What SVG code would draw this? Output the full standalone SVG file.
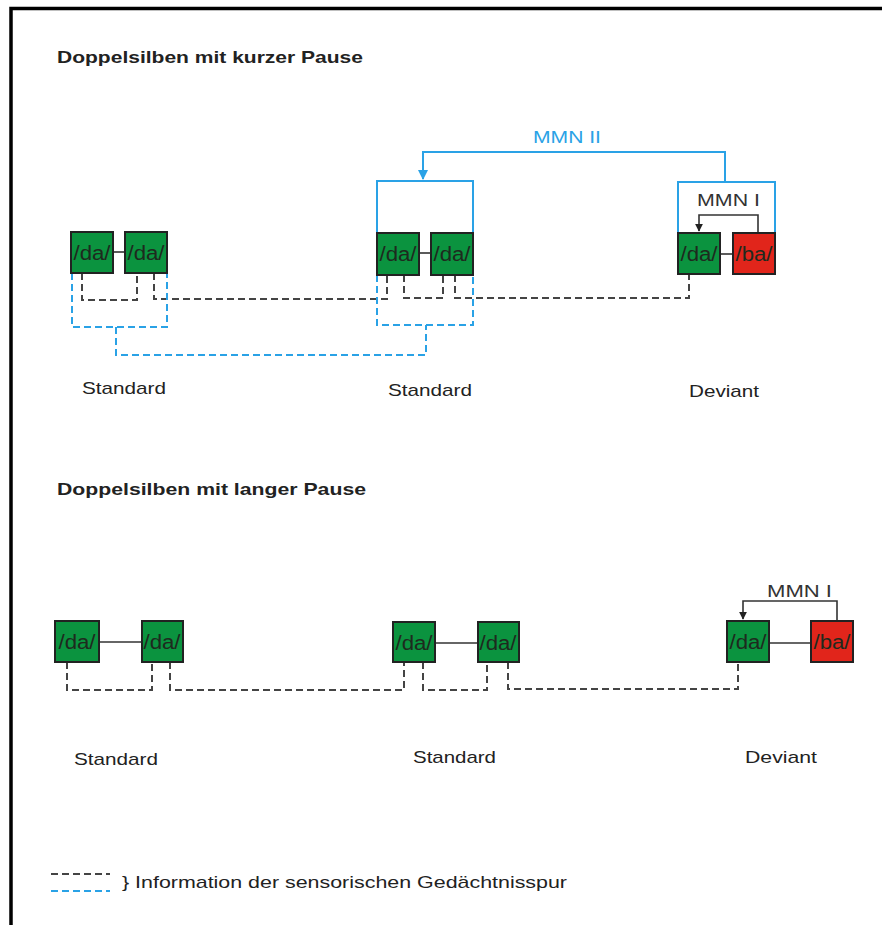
<svg xmlns="http://www.w3.org/2000/svg" width="882" height="925" viewBox="0 0 882 925">
<style>
.t{font-family:"Liberation Sans",Arial,sans-serif;fill:#222}
.h{font-size:17px;font-weight:bold}
.lab{font-size:17px}
.bx{font-size:20px;fill:#1e2a1e;text-anchor:middle}
.g{fill:#0b933f;stroke:#222;stroke-width:2}
.r{fill:#e1251b;stroke:#222;stroke-width:2}
.ln{stroke:#333;stroke-width:1.6;fill:none}
.bd{stroke:#444;stroke-width:2;fill:none;stroke-dasharray:7 4}
.bl{stroke:#2aa2e6;stroke-width:2;fill:none;stroke-dasharray:7 4}
.bs{stroke:#2aa2e6;stroke-width:2;fill:none}
.ar{stroke:#333;stroke-width:1.6;fill:none}
</style>
<defs>
<marker id="ah" viewBox="0 0 10 10" refX="9" refY="5" markerWidth="5" markerHeight="5" orient="auto"><path d="M0,0 L10,5 L0,10 z" fill="#222"/></marker>
<marker id="ahb" viewBox="0 0 10 10" refX="9" refY="5" markerWidth="5" markerHeight="5" orient="auto"><path d="M0,0 L10,5 L0,10 z" fill="#2aa2e6"/></marker>
</defs>
<rect width="882" height="925" fill="#fff"/>
<path d="M11,925 L11,8.5 L882,8.5" stroke="#000" stroke-width="3.5" fill="none"/>

<text class="t h" x="57" y="63" textLength="306" lengthAdjust="spacingAndGlyphs">Doppelsilben mit kurzer Pause</text>
<text class="t h" x="57" y="495" textLength="309" lengthAdjust="spacingAndGlyphs">Doppelsilben mit langer Pause</text>

<g id="connectors">
<path class="bd" d="M82,273 V300 H137 V273"/>
<path class="bd" d="M154,273 V299 H387 V275"/>
<path class="bd" d="M404,275 V298 H443 V275"/>
<path class="bd" d="M455,275 V298 H689 V274"/>
<path class="bl" d="M72,273 V327 H167 V273"/>
<path class="bl" d="M377,275 V325 H473 V275"/>
<path class="bl" d="M116,327 V355 H426 V325"/>
<path class="bs" d="M377,233 V181 H473 V233"/>
<path class="bs" d="M678,233 V182 H775 V233"/>
<path class="bs" d="M725,182 V152 H423 V179" marker-end="url(#ahb)"/>
<path class="ar" d="M758,233 V215 H699 V231" marker-end="url(#ah)"/>
<line class="ln" x1="113" y1="252" x2="125" y2="252"/>
<line class="ln" x1="419" y1="253" x2="430" y2="253"/>
<line class="ln" x1="720" y1="254" x2="733" y2="254"/>
<path class="bd" d="M67,662 V690 H152 V662"/>
<path class="bd" d="M170,662 V690 H404 V662"/>
<path class="bd" d="M423,662 V690 H487 V662"/>
<path class="bd" d="M508,662 V689 H738 V662"/>
<line class="ln" x1="99" y1="642" x2="142" y2="642"/>
<line class="ln" x1="435" y1="643" x2="478" y2="643"/>
<line class="ln" x1="769" y1="643" x2="811" y2="643"/>
<path class="ar" d="M837,621 V601 H743 V619" marker-end="url(#ah)"/>
</g>

<text class="t lab" x="533" y="143" textLength="68" lengthAdjust="spacingAndGlyphs" style="fill:#2aa2e6">MMN II</text>
<text class="t lab" x="697" y="206" textLength="63" lengthAdjust="spacingAndGlyphs" style="fill:#333">MMN I</text>
<text class="t lab" x="767" y="597" textLength="65" lengthAdjust="spacingAndGlyphs" style="fill:#333">MMN I</text>

<g id="top-standard-1">
<rect class="g" x="71" y="232" width="42" height="41"/>
<text class="t bx" x="92" y="260" textLength="37" lengthAdjust="spacingAndGlyphs">/da/</text>
<rect class="g" x="125" y="232" width="42" height="41"/>
<text class="t bx" x="146" y="260" textLength="37" lengthAdjust="spacingAndGlyphs">/da/</text>
<text class="t lab" x="82" y="394" textLength="84" lengthAdjust="spacingAndGlyphs">Standard</text>
</g>
<g id="top-standard-2">
<rect class="g" x="377" y="233" width="42" height="42"/>
<text class="t bx" x="398" y="261" textLength="37" lengthAdjust="spacingAndGlyphs">/da/</text>
<rect class="g" x="431" y="233" width="42" height="42"/>
<text class="t bx" x="452" y="261" textLength="37" lengthAdjust="spacingAndGlyphs">/da/</text>
<text class="t lab" x="388" y="396" textLength="84" lengthAdjust="spacingAndGlyphs">Standard</text>
</g>
<g id="top-deviant">
<rect class="g" x="678" y="233" width="42" height="41"/>
<text class="t bx" x="699" y="261" textLength="37" lengthAdjust="spacingAndGlyphs">/da/</text>
<rect class="r" x="733" y="233" width="42" height="41"/>
<text class="t bx" x="754" y="261" textLength="37" lengthAdjust="spacingAndGlyphs">/ba/</text>
<text class="t lab" x="689" y="397" textLength="70" lengthAdjust="spacingAndGlyphs">Deviant</text>
</g>

<g id="bottom-standard-1">
<rect class="g" x="55" y="621" width="44" height="41"/>
<text class="t bx" x="77" y="649" textLength="37" lengthAdjust="spacingAndGlyphs">/da/</text>
<rect class="g" x="142" y="621" width="41" height="41"/>
<text class="t bx" x="162" y="649" textLength="37" lengthAdjust="spacingAndGlyphs">/da/</text>
<text class="t lab" x="74" y="765" textLength="84" lengthAdjust="spacingAndGlyphs">Standard</text>
</g>
<g id="bottom-standard-2">
<rect class="g" x="393" y="622" width="42" height="40"/>
<text class="t bx" x="414" y="650" textLength="37" lengthAdjust="spacingAndGlyphs">/da/</text>
<rect class="g" x="478" y="622" width="41" height="40"/>
<text class="t bx" x="498" y="650" textLength="37" lengthAdjust="spacingAndGlyphs">/da/</text>
<text class="t lab" x="413" y="763" textLength="83" lengthAdjust="spacingAndGlyphs">Standard</text>
</g>
<g id="bottom-deviant">
<rect class="g" x="727" y="621" width="42" height="41"/>
<text class="t bx" x="748" y="649" textLength="37" lengthAdjust="spacingAndGlyphs">/da/</text>
<rect class="r" x="811" y="621" width="42" height="41"/>
<text class="t bx" x="832" y="649" textLength="37" lengthAdjust="spacingAndGlyphs">/ba/</text>
<text class="t lab" x="745" y="763" textLength="72" lengthAdjust="spacingAndGlyphs">Deviant</text>
</g>

<g id="legend">
<line class="bd" x1="51" y1="874" x2="110" y2="874"/>
<line class="bl" x1="51" y1="891" x2="110" y2="891"/>
<text class="t lab" x="122" y="888" textLength="445" lengthAdjust="spacingAndGlyphs">} Information der sensorischen Gedächtnisspur</text>
</g>
</svg>
